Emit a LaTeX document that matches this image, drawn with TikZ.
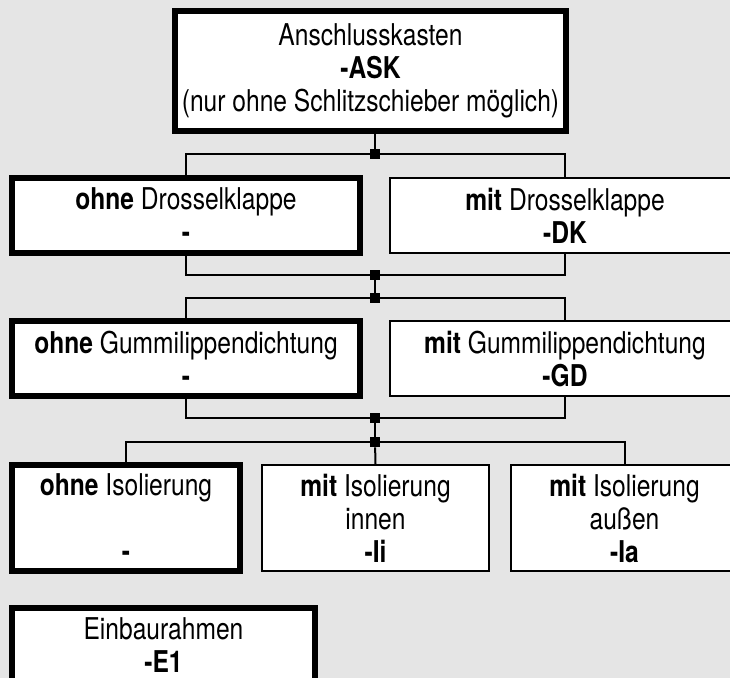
\documentclass[tikz,border=0pt]{standalone}
\usepackage{fontspec}
\setmainfont{TeX Gyre Heros}[FakeStretch=0.82]
\definecolor{PanelGray}{RGB}{229,229,229}

\begin{document}
\begin{tikzpicture}[x=0.5pt,y=-0.5pt,
  box/.style={draw=black,fill=white,align=center,inner sep=0pt,font=\fontsize{15}{16.5}\selectfont},
  pick/.style={box,line width=3pt},
  other/.style={box,line width=1pt},
  wire/.style={line width=1pt},
  junc/.style={fill=black,minimum size=5pt,inner sep=0pt}]
\useasboundingbox (0,0) rectangle (730,678);
\clip (0,0) rectangle (730,678);
\fill[PanelGray] (0,0) rectangle (730,678);
% Anschlusskasten
\node[pick,minimum width=195.5pt,minimum height=60pt] (ask) at (370.5,71) {Anschlusskasten\\\textbf{-ASK}\\(nur ohne Schlitzschieber möglich)};
% Drosselklappe
\node[pick,minimum width=174pt,minimum height=37.5pt] (dk0) at (186,215.5) {\textbf{ohne} Drosselklappe\\\textbf{-}};
\node[other,minimum width=175pt,minimum height=37.5pt] (dk1) at (565,215.5) {\textbf{mit} Drosselklappe\\\textbf{-DK}};
% Gummilippendichtung
\node[pick,minimum width=174pt,minimum height=37.5pt] (gd0) at (186,358.5) {\textbf{ohne} Gummilippendichtung\\\textbf{-}};
\node[other,minimum width=175pt,minimum height=37.5pt] (gd1) at (565,358.5) {\textbf{mit} Gummilippendichtung\\\textbf{-GD}};
% Isolierung
\node[pick,minimum width=114pt,minimum height=53pt] (is0) at (126,518) {\textbf{ohne} Isolierung\\\mbox{}\\\textbf{-}};
\node[other,minimum width=113.5pt,minimum height=53pt] (is1) at (375.5,518) {\textbf{mit} Isolierung\\innen\\\textbf{-Ii}};
\node[other,minimum width=113.5pt,minimum height=53pt] (is2) at (624.5,518) {\textbf{mit} Isolierung\\außen\\\textbf{-Ia}};
% Einbaurahmen
\node[pick,minimum width=151.5pt,minimum height=36.5pt] (e1) at (163.5,645) {Einbaurahmen\\\textbf{-E1}};

\node[junc] (j1) at (375,154) {};
\node[junc] (j2) at (375,275) {};
\node[junc] (j3) at (375,298) {};
\node[junc] (j4) at (375,418) {};
\node[junc] (j5) at (375,442) {};

\draw[wire] (ask.south -| j1) -- (j1);
\draw[wire] (dk0.north) |- (j1) -| (dk1.north);
\draw[wire] (dk0.south) |- (j2) -| (dk1.south);
\draw[wire] (j2) -- (j3);
\draw[wire] (gd0.north) |- (j3) -| (gd1.north);
\draw[wire] (gd0.south) |- (j4) -| (gd1.south);
\draw[wire] (j4) -- (j5);
\draw[wire] (is0.north) |- (j5) -| (is2.north);
\draw[wire] (j5) -- (is1.north);
\end{tikzpicture}
\end{document}
